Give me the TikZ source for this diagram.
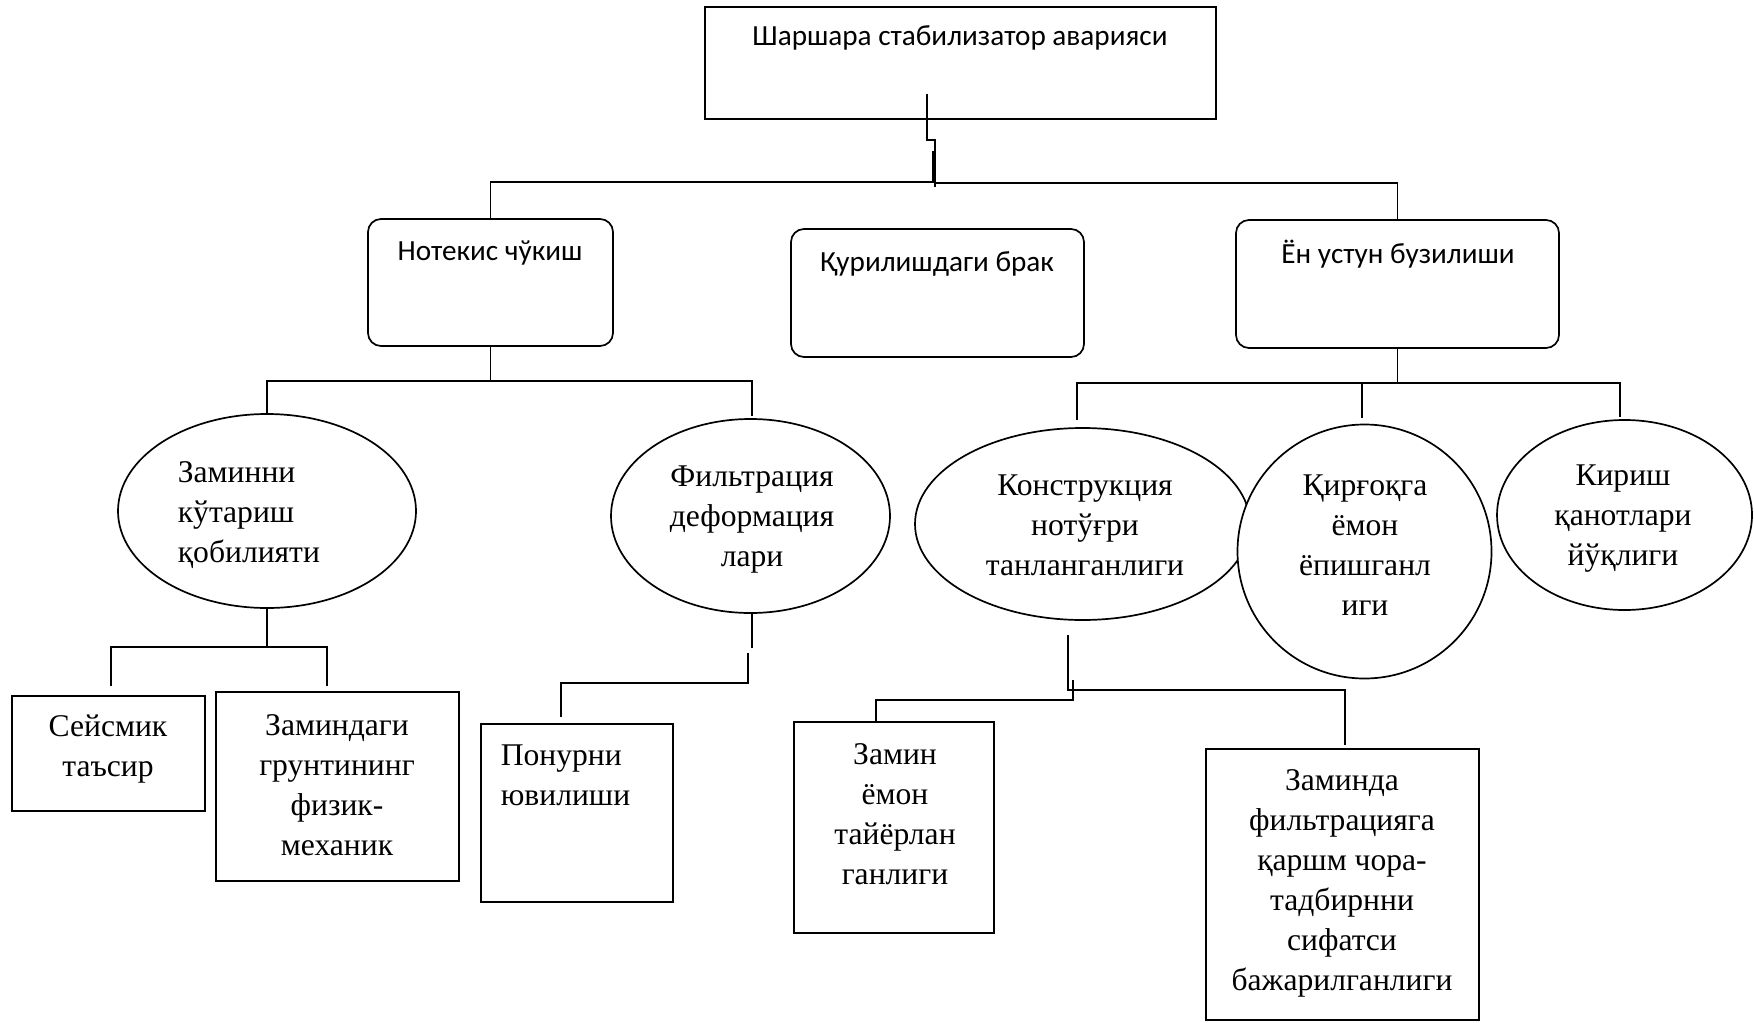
\documentclass[tikz,border=0pt]{standalone}
\usepackage{fontspec}
\setmainfont{Liberation Serif}
\newfontfamily\calibrifont{Carlito}
\usetikzlibrary{shapes.geometric}
\begin{document}
\begin{tikzpicture}[x=0.5pt,y=-0.5pt, line width=0.85pt,
  sbox/.style={draw, rectangle, inner sep=0pt, outer sep=0pt},
  rbox/.style={sbox, rounded corners=6.5pt},
  ell/.style={draw, ellipse, inner sep=0pt, outer sep=0pt, fill=white},
  serif/.style={font=\fontsize{15.8}{20}\selectfont, inner sep=0pt, align=center},
  sans/.style={font=\calibrifont\fontsize{14.6}{17}\selectfont, inner sep=0pt},
  conn/.style={line width=0.85pt}]
\useasboundingbox (0,0) rectangle (1754,1022);

% boxes and ellipses
\node[sbox, minimum width=255.5pt, minimum height=56pt] (b0) at (960.5,63) {};
\node[rbox, minimum width=122.5pt, minimum height=63.5pt] (b1) at (490.5,282.5) {};
\node[rbox, minimum width=146.5pt, minimum height=64pt] (b2) at (937.5,293) {};
\node[rbox, minimum width=161.5pt, minimum height=64pt] (b3) at (1397.5,284) {};
\node[ell, minimum width=149pt, minimum height=97pt] (e1) at (267,511) {};
\node[ell, minimum width=139.5pt, minimum height=97pt] (e2) at (750.5,516) {};
\node[sbox, minimum width=96.5pt, minimum height=57.5pt] (b4) at (108.5,753.5) {};
\node[sbox, minimum width=121.5pt, minimum height=94.5pt] (b5) at (337.5,786.5) {};
\node[sbox, minimum width=96pt, minimum height=89pt] (b6) at (577,813) {};
\node[ell, minimum width=167.5pt, minimum height=96pt] (e3) at (1082.5,524) {};
\node[ell, minimum width=127pt, minimum height=127pt] (q1) at (1364.5,551.5) {};
\node[ell, minimum width=127.5pt, minimum height=95pt] (e4) at (1624.5,515) {};
\node[sbox, minimum width=100pt, minimum height=105.5pt] (b7) at (894,827.5) {};
\node[sbox, minimum width=136.5pt, minimum height=135.5pt] (b8) at (1342.5,884.5) {};

% texts
\node[sans] (t0) at (960,38) {Шаршара стабилизатор аварияси};
\node[sans] (t1) at (490,253) {Нотекис чўкиш};
\node[sans] (t2) at (937,264) {Қурилишдаги брак};
\node[sans] (t3) at (1398,254) {Ён устун бузилиши};
\node[serif, align=left, anchor=west] (te1) at (177,515) {Заминни\\кўтариш\\қобилияти};
\node[serif] (te2) at (752,520) {Фильтрация\\деформация\\лари};
\node[serif] (tb4) at (108,749) {Сейсмик\\таъсир};
\node[serif] (tb5) at (337,785) {Заминдаги\\грунтининг\\физик-\\механик};
\node[serif, align=left, anchor=west] (tb6) at (500,775) {Понурни\\ювилиши};
\node[serif] (te3) at (1085,525) {Конструкция\\нотўғри\\танланганлиги};
\node[serif] (tq1) at (1365,545) {Қирғоқга\\ёмон\\ёпишганл\\иги};
\node[serif] (te4) at (1623,519) {Кириш\\қанотлари\\йўқлиги};
\node[serif] (tb7) at (895,814) {Замин\\ёмон\\тайёрлан\\ганлиги};
\node[serif] (tb8) at (1342,883) {Заминда\\фильтрацияга\\қаршм чора-\\тадбирнни\\сифатси\\бажарилганлиги};

% connectors: top
\coordinate (k0) at (927,94);
\coordinate (k1) at (935,187);
\draw[conn] (k0) -- ++(0,46) -| (k1);
\coordinate (k2) at (933,151);
\coordinate (hL) at (933,182);
\draw[conn] (k2) -- (hL) -| (b1.north);
\coordinate (hR) at (935,183);
\draw[conn] (hR) -| (b3.north);

% Нотекис чўкиш
\coordinate (n1) at (490.5,381);
\draw[conn] (b1.south) -- (n1) -| (e1.north);
\coordinate (n2) at (752,416);
\draw[conn] (n1) -| (n2);

% Заминни кўтариш
\coordinate (z1) at (267,647);
\coordinate (z2) at (111,686);
\coordinate (z3) at (327,686);
\draw[conn] (e1.south) -- (z1);
\draw[conn] (z2) |- (z1) -| (z3);

% Фильтрация
\coordinate (f0) at (752,612);
\coordinate (f1) at (752,648);
\draw[conn] (f0) -- (f1);
\coordinate (f2) at (748,653);
\coordinate (f4) at (748,683);
\coordinate (f3) at (561,717);
\draw[conn] (f2) -- (f4) -| (f3);

% Ён устун
\coordinate (y1) at (1397.5,383);
\coordinate (y2) at (1077,420);
\coordinate (y3) at (1362,418);
\coordinate (y4) at (1620,417);
\draw[conn] (b3.south) -- (y1);
\draw[conn] (y2) |- (y1) -| (y4);
\draw[conn] (y3) -- (y3 |- y1);

% Конструкция
\coordinate (c0) at (1068,635);
\coordinate (c1) at (1068,690);
\coordinate (c2) at (1345,745);
\draw[conn] (c0) -- (c1) -| (c2);
\coordinate (c3) at (1073,680);
\coordinate (c4) at (1073,700);
\coordinate (c5) at (876,721);
\draw[conn] (c3) -- (c4) -| (c5);
\end{tikzpicture}
\end{document}
